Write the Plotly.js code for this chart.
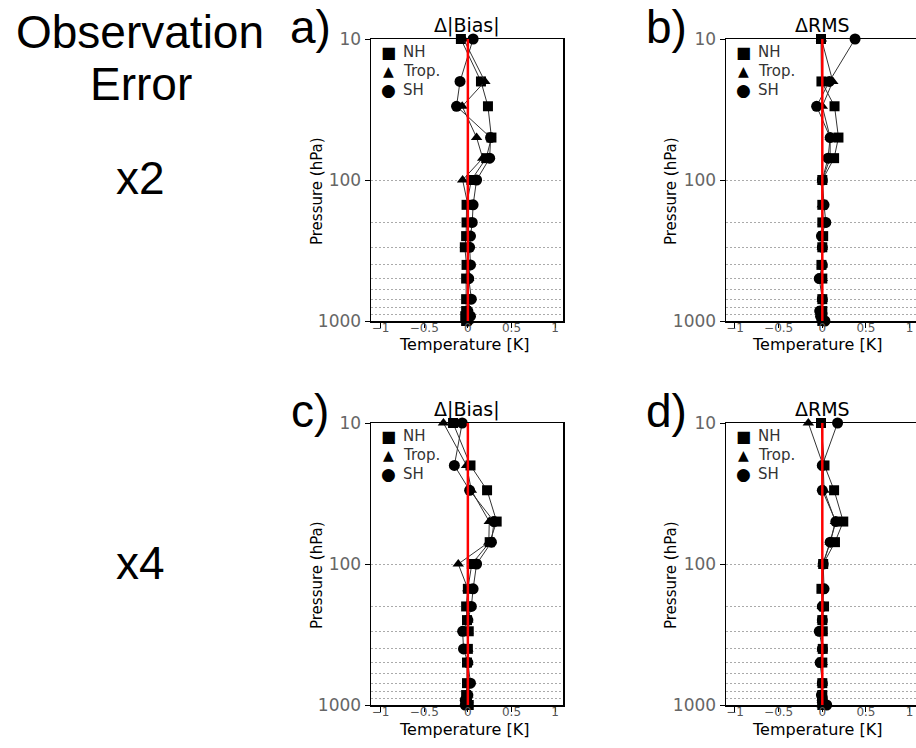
<!DOCTYPE html>
<html>
<head>
<meta charset="utf-8">
<script src="https://cdn.plot.ly/plotly-3.0.1.min.js"></script>
<style>html,body{margin:0;padding:0;background:#fff;}#chart{width:916px;height:748px;}</style>
</head>
<body>
<div id="chart"></div>
<script>
// Pressure levels (hPa)
const levels = [10, 20, 30, 50, 70, 100, 150, 200, 250, 300, 400, 500, 700, 850, 925, 1000];
const seriesNames = ["NH", "Trop.", "SH"];
const legendGlyphs = ["\u25A0", "\u25B2", "\u25CF"];
const panelTitles = ["\u0394|Bias|", "\u0394RMS", "\u0394|Bias|", "\u0394RMS"];
const panelLetters = ["a)", "b)", "c)", "d)"];
const rowLabels = ["x2", "x4"];
const xTickVals = [-1, -0.5, 0, 0.5, 1];
const xTickText = ["\u22121", "\u22120.5", "0", "0.5", "1"];
const yTickVals = [10, 100, 1000];
const yTickText = ["10", "100", "1000"];
const yMinorGrid = [200, 300, 400, 500, 600, 700, 800, 900];

// a) x2 delta |bias|
const aNH   = [-0.08, 0.15, 0.23, 0.27, 0.21, 0.04, -0.015, -0.015, -0.02, -0.035, -0.015, -0.02, -0.02, -0.02, -0.03, -0.02];
const aTrop = [-0.05, 0.195, -0.065, 0.10, 0.17, -0.06, 0.0, 0.01, 0.0, 0.0, 0.0, 0.01, 0.0, 0.0, 0.0, 0.0];
const aSH   = [0.06, -0.09, -0.13, 0.26, 0.25, 0.10, 0.06, 0.05, 0.03, 0.02, 0.03, 0.01, 0.04, 0.0, 0.03, 0.0];
// b) x2 delta RMS
const bNH   = [-0.015, -0.01, 0.14, 0.185, 0.135, 0.0, 0.0, 0.0, 0.01, 0.0, -0.01, 0.0, 0.0, 0.0, -0.01, 0.0];
const bTrop = [-0.01, 0.12, 0.0, 0.09, 0.09, 0.0, 0.0, 0.01, 0.0, 0.0, 0.0, 0.0, 0.0, 0.0, 0.0, 0.02];
const bSH   = [0.375, 0.08, -0.065, 0.09, 0.065, 0.0, 0.02, 0.04, -0.01, 0.0, 0.0, -0.035, 0.0, -0.03, -0.02, 0.03];
// c) x4 delta |bias|
const cNH   = [-0.17, 0.03, 0.22, 0.33, 0.25, 0.045, 0.0, -0.02, -0.01, 0.01, 0.0, -0.01, -0.01, -0.02, -0.01, 0.01];
const cTrop = [-0.28, -0.015, 0.04, 0.245, 0.24, -0.11, 0.0, 0.0, 0.0, 0.0, 0.0, 0.0, 0.0, 0.0, 0.0, 0.0];
const cSH   = [-0.065, -0.155, 0.02, 0.30, 0.27, 0.10, 0.06, 0.04, 0.0, -0.06, -0.05, 0.0, 0.03, 0.0, -0.03, -0.03];
// d) x4 delta RMS
const dNH   = [-0.015, 0.025, 0.135, 0.24, 0.145, 0.01, -0.01, 0.02, 0.0, 0.005, 0.005, 0.0, 0.0, 0.0, 0.0, 0.0];
const dTrop = [-0.16, 0.01, 0.02, 0.15, 0.09, 0.005, 0.0, 0.0, 0.0, 0.0, 0.0, 0.0, 0.0, 0.0, 0.0, 0.0];
const dSH   = [0.175, 0.0, 0.0, 0.155, 0.09, 0.01, 0.02, 0.0, 0.0, -0.035, 0.0, -0.025, 0.0, -0.01, 0.0, 0.05];

const panels = [[aNH, aTrop, aSH], [bNH, bTrop, bSH], [cNH, cTrop, cSH], [dNH, dTrop, dSH]];

const W = 916, H = 748;
const px = v => v / W;
const py = v => 1 - v / H;

const symbols = ["square", "triangle-up", "circle"];
const msizes = [10, 10, 11];
const glyphSizes = [16, 14, 17];
const FONT = "DejaVu Sans, sans-serif";

// pixel geometry of the four plot areas
const boxes = [
  {l: 371, r: 563, t: 39, b: 321, xr: [-1.11, 1.09]},
  {l: 726, r: 916, t: 39, b: 321, xr: [-1.103, 1.073]},
  {l: 371, r: 563, t: 423, b: 705, xr: [-1.11, 1.09]},
  {l: 726, r: 916, t: 423, b: 705, xr: [-1.103, 1.073]}
];

const traces = [];
const layout = {
  width: W, height: H,
  margin: {l: 0, r: 0, t: 0, b: 0},
  paper_bgcolor: "#fff", plot_bgcolor: "#fff",
  showlegend: false,
  font: {family: FONT, color: "#000"},
  shapes: [], annotations: []
};

panels.forEach((series, i) => {
  const n = i + 1;
  const xa = "x" + (n === 1 ? "" : n), ya = "y" + (n === 1 ? "" : n);
  series.forEach((vals, k) => {
    traces.push({
      type: "scatter", mode: "lines+markers", x: vals, y: levels,
      xaxis: xa, yaxis: ya, showlegend: false, cliponaxis: false,
      line: {color: "#333", width: 1},
      marker: {symbol: symbols[k], size: msizes[k], color: "#000"},
      name: seriesNames[k]
    });
  });
  const bx = boxes[i];
  layout["xaxis" + (n === 1 ? "" : n)] = {
    domain: [px(bx.l), px(bx.r)], anchor: ya, range: bx.xr,
    tickvals: xTickVals, ticktext: xTickText, ticks: "outside", ticklen: 5, tickcolor: "#000",
    tickfont: {family: FONT, size: 12, color: "#555"}, ticklabelstandoff: -10,
    showline: true, mirror: true, linecolor: "#000", linewidth: 1.5,
    showgrid: false, zeroline: false, fixedrange: true
  };
  layout["yaxis" + (n === 1 ? "" : n)] = {
    domain: [py(bx.b), py(bx.t)], anchor: xa, type: "log", range: [3, 1],
    tickvals: yTickVals, ticktext: yTickText, ticks: "outside", ticklen: 5, tickcolor: "#000",
    tickfont: {family: FONT, size: 17, color: "#666"},
    showline: true, mirror: true, linecolor: "#000", linewidth: 1.5,
    showgrid: true, gridcolor: "#aaa", griddash: "2px,2px", gridwidth: 1,
    minor: {tickvals: yMinorGrid, showgrid: true, gridcolor: "#aaa", griddash: "2px,2px", gridwidth: 1, ticks: ""},
    zeroline: false, fixedrange: true
  };
  layout.shapes.push({
    type: "line", xref: xa, yref: ya + " domain", x0: 0, x1: 0, y0: 0, y1: 1,
    line: {color: "#ff0000", width: 2.5}, layer: "above"
  });
  // legend key (glyph + label) in the upper-left corner
  seriesNames.forEach((nm, k) => {
    const yy = bx.t + 13 + k * 19;
    layout.annotations.push(
      {text: legendGlyphs[k], xref: "paper", yref: "paper", x: px(bx.l + 17), y: py(yy),
       xanchor: "center", yanchor: "middle", showarrow: false, font: {family: FONT, size: glyphSizes[k], color: "#000"}},
      {text: nm, xref: "paper", yref: "paper", x: px(bx.l + 30), y: py(yy),
       xanchor: "left", yanchor: "middle", showarrow: false, font: {family: FONT, size: 15, color: "#333"}}
    );
  });
  const row = i < 2 ? 0 : 1, col = i % 2;
  const dy = row * 384;
  const titleX = col === 0 ? 467 : 822;
  layout.annotations.push(
    {text: panelTitles[i], xref: "paper", yref: "paper", x: px(titleX), y: py(25 + dy),
     xanchor: "center", yanchor: "middle", showarrow: false, font: {family: FONT, size: 19, color: "#000"}},
    {text: panelLetters[i], xref: "paper", yref: "paper", x: px(col === 0 ? 310 : 666), y: py(27 + dy),
     xanchor: "center", yanchor: "middle", showarrow: false, font: {family: "Liberation Sans, Arial, sans-serif", size: 46, color: "#000"}},
    {text: "Pressure (hPa)", xref: "paper", yref: "paper", x: px(col === 0 ? 317 : 671), y: py(191 + dy),
     xanchor: "center", yanchor: "middle", textangle: -90, showarrow: false, font: {family: FONT, size: 15, color: "#000"}},
    {text: "Temperature [K]", xref: "paper", yref: "paper", x: px(col === 0 ? 464 : 817), y: py(345 + dy),
     xanchor: "center", yanchor: "middle", showarrow: false, font: {family: FONT, size: 16, color: "#000"}}
  );
});

const bigFont = {family: "Liberation Sans, Arial, sans-serif", size: 46, color: "#000"};
layout.annotations.push(
  {text: "Observation", xref: "paper", yref: "paper", x: px(140), y: py(32), xanchor: "center", yanchor: "middle", showarrow: false, font: bigFont},
  {text: "Error", xref: "paper", yref: "paper", x: px(141), y: py(84), xanchor: "center", yanchor: "middle", showarrow: false, font: bigFont},
  {text: rowLabels[0], xref: "paper", yref: "paper", x: px(140), y: py(178), xanchor: "center", yanchor: "middle", showarrow: false, font: bigFont},
  {text: rowLabels[1], xref: "paper", yref: "paper", x: px(140), y: py(563), xanchor: "center", yanchor: "middle", showarrow: false, font: bigFont}
);

Plotly.newPlot("chart", traces, layout, {staticPlot: true, displayModeBar: false});
</script>
</body>
</html>
